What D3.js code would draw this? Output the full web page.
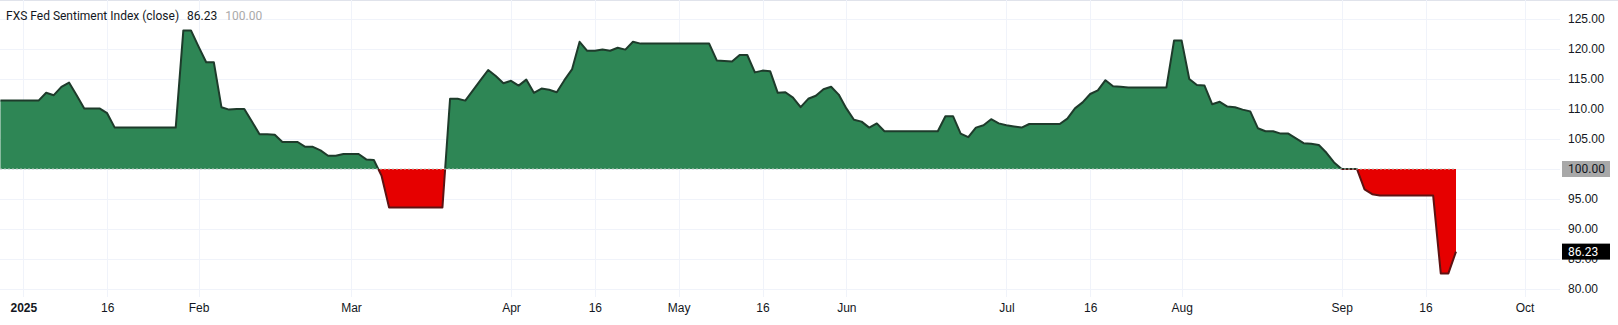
<!DOCTYPE html>
<html>
<head>
<meta charset="utf-8">
<script src="https://cdn.jsdelivr.net/npm/d3@7"></script>
<style>
  body { margin: 0; background: #fff; }
  svg { display: block; font-family: Roboto, "Noto Sans", sans-serif; }
  .grid line { stroke: #f0f3fa; }
  .axis text { fill: #131722; font-size: 12px; }
</style>
</head>
<body>
<svg id="chart" width="1618" height="325"></svg>
<script>
// first bar is Dec 27 2024, one value per weekday up to Sep 22 2025
let firstDay = "2024-12-27";
let closeValues = [
    111.4, 111.4, 111.4,
    111.4, 111.4, 111.4, 112.7, 112.3, 113.7, 114.4, 112.3, 110.1, 110.1,
    110.1, 109.3, 106.9, 106.9, 106.9, 106.9, 106.9, 106.9, 106.9, 106.9,
    106.9, 123.1, 123.1, 120.4, 117.8, 117.8, 110.3, 109.9, 110.0, 110.0,
    107.9, 105.8, 105.8, 105.7, 104.5, 104.5, 104.5, 103.7, 103.7, 103.1,
    102.2, 102.2, 102.5, 102.5, 102.5, 101.6, 101.5, 98.9, 93.6, 93.6,
    93.6, 93.6, 93.6, 93.6, 93.6, 93.6, 111.7, 111.7, 111.4, 113.1,
    114.8, 116.5, 115.5, 114.3, 114.7, 113.9, 114.9, 112.7, 113.4, 113.2,
    112.8, 114.8, 116.6, 121.2, 119.7, 119.7, 119.9, 119.7, 120.2, 119.9,
    121.2, 120.9, 120.9, 120.9, 120.9, 120.9, 120.9, 120.9, 120.9, 120.9,
    120.9, 118.1, 118.0, 117.9, 119.0, 119.0, 116.1, 116.4, 116.3, 112.7,
    112.8, 111.9, 110.3, 111.7, 112.2, 113.3, 113.7, 112.4, 110.1, 108.2,
    107.9, 106.9, 107.6, 106.3, 106.3, 106.3, 106.3, 106.3, 106.3, 106.3,
    106.3, 108.8, 108.8, 105.9, 105.3, 106.9, 107.3, 108.3, 107.6, 107.3,
    107.1, 106.9, 107.5, 107.5, 107.5, 107.5, 107.5, 108.4, 110.1, 111.1,
    112.5, 113.1, 114.8, 113.8, 113.7, 113.6, 113.6, 113.6, 113.6, 113.6,
    113.6, 121.4, 121.4, 115.0, 114.0, 113.9, 110.8, 111.2, 110.4, 110.3,
    109.9, 109.6, 106.8, 106.3, 106.3, 105.9, 105.9, 105.1, 104.3, 104.2,
    104.0, 102.7, 101.1, 100.0, 100.0, 100.0, 96.6, 95.8, 95.6, 95.6,
    95.6, 95.6, 95.6, 95.6, 95.6, 95.6, 82.6, 82.6, 86.23
];
let baseValue = 100;
let lastValue = 86.23;

let monthTicks = ["2025-01-01", "2025-01-16", "2025-02-03", "2025-03-03", "2025-04-01",
    "2025-04-16", "2025-05-01", "2025-05-16", "2025-06-02", "2025-07-01", "2025-07-16",
    "2025-08-01", "2025-09-01", "2025-09-16", "2025-10-01"];
let monthLabels = ["2025", "16", "Feb", "Mar", "Apr", "16", "May", "16", "Jun", "Jul", "16",
    "Aug", "Sep", "16", "Oct"];
let priceTicks = [80, 85, 90, 95, 100, 105, 110, 115, 120, 125];

let parse = d3.timeParse("%Y-%m-%d");

// weekday bars
let days = [];
let d = parse(firstDay);
while (days.length < closeValues.length) {
    if (d.getDay() !== 0 && d.getDay() !== 6) days.push(d);
    d = d3.timeDay.offset(d, 1);
}
let data = days.map((day, i) => ({ date: day, value: closeValues[i] }));
let lastDay = days[days.length - 1];

function barIndex(dateStr) {
    let t = parse(dateStr);
    let i = days.findIndex(x => +x === +t);
    if (i >= 0) return i;
    // past the data the scale runs on calendar days
    return days.length - 1 + d3.timeDay.count(lastDay, t);
}

let width = 1618, height = 325;
let plotRight = 1560, plotBottom = 297;
let jan1 = barIndex("2025-01-01");

let x = d3.scaleLinear()
    .domain([jan1, days.length - 1])
    .range([23.3, 1456]);
let y = d3.scaleLinear()
    .domain([80, 125])
    .range([289, 19]);

let svg = d3.select("#chart");

svg.append("line")
    .attr("x1", 0).attr("x2", width)
    .attr("y1", 0.5).attr("y2", 0.5)
    .attr("stroke", "#e0e3eb");

// grid
let grid = svg.append("g").attr("class", "grid");
grid.selectAll(".h").data(priceTicks).join("line")
    .attr("x1", 0).attr("x2", plotRight)
    .attr("y1", v => Math.round(y(v)) + 0.5).attr("y2", v => Math.round(y(v)) + 0.5);
grid.selectAll(".v").data(monthTicks).join("line")
    .attr("x1", t => Math.round(x(barIndex(t))) + 0.5).attr("x2", t => Math.round(x(barIndex(t))) + 0.5)
    .attr("y1", 0).attr("y2", plotBottom);

let defs = svg.append("defs");
defs.append("clipPath").attr("id", "above")
    .append("rect").attr("x", 0).attr("y", 0).attr("width", plotRight).attr("height", y(baseValue));
defs.append("clipPath").attr("id", "below")
    .append("rect").attr("x", 0).attr("y", y(baseValue)).attr("width", plotRight).attr("height", plotBottom - y(baseValue));

let area = d3.area()
    .x((p, i) => x(i))
    .y0(y(baseValue))
    .y1(p => y(p.value));
let line = d3.line()
    .x((p, i) => x(i))
    .y(p => y(p.value));

let styles = [
    { clip: "above", fill: "#2e8655", stroke: "#1e3b2b" },
    { clip: "below", fill: "#e60000", stroke: "#5e1212" }
];
for (let s of styles) {
    let g = svg.append("g").attr("clip-path", "url(#" + s.clip + ")");
    g.append("path").datum(data)
        .attr("d", area)
        .attr("fill", s.fill);
    g.append("path").datum(data)
        .attr("d", line)
        .attr("fill", "none")
        .attr("stroke", s.stroke)
        .attr("stroke-width", 2)
        .attr("stroke-linejoin", "round");
}

// base line, only under the data
svg.append("line")
    .attr("x1", 0).attr("x2", x(days.length - 1))
    .attr("y1", y(baseValue)).attr("y2", y(baseValue))
    .attr("stroke", "#b9c9bd")
    .attr("stroke-dasharray", "2,2");

// axes
let xAxis = d3.axisBottom(x)
    .tickValues(monthTicks.map(barIndex))
    .tickFormat((v, i) => monthLabels[i])
    .tickSize(0)
    .tickPadding(0);
let gx = svg.append("g").attr("class", "axis")
    .attr("transform", "translate(0,308)")
    .call(xAxis);
gx.select(".domain").remove();
gx.selectAll("text")
    .attr("dy", "0.32em")
    .attr("font-weight", (v, i) => monthLabels[i] === "2025" ? "bold" : null);

let yAxis = d3.axisRight(y)
    .tickValues(priceTicks)
    .tickFormat(d3.format(".2f"))
    .tickSize(0)
    .tickPadding(0);
let gy = svg.append("g").attr("class", "axis")
    .attr("transform", "translate(1568,0)")
    .call(yAxis);
gy.select(".domain").remove();

// price labels
function priceTag(v, fill, color) {
    let yy = y(v);
    svg.append("rect")
        .attr("x", 1562).attr("y", yy - 8)
        .attr("width", 48).attr("height", 16)
        .attr("fill", fill);
    svg.append("text")
        .attr("x", 1568).attr("y", yy)
        .attr("dy", "0.35em")
        .attr("font-size", 12)
        .attr("fill", color)
        .text(d3.format(".2f")(v));
}
priceTag(baseValue, "#a8a8a8", "#131722");
priceTag(lastValue, "#000000", "#ffffff");

// legend
let legend = svg.append("text")
    .attr("x", 6).attr("y", 20)
    .attr("font-size", 12)
    .attr("fill", "#131722");
legend.append("tspan").text("FXS Fed Sentiment Index (close)");
legend.append("tspan").attr("dx", 8).text(d3.format(".2f")(lastValue));
legend.append("tspan").attr("dx", 8).attr("fill", "#aaaaaa").text(d3.format(".2f")(baseValue));
</script>
</body>
</html>
